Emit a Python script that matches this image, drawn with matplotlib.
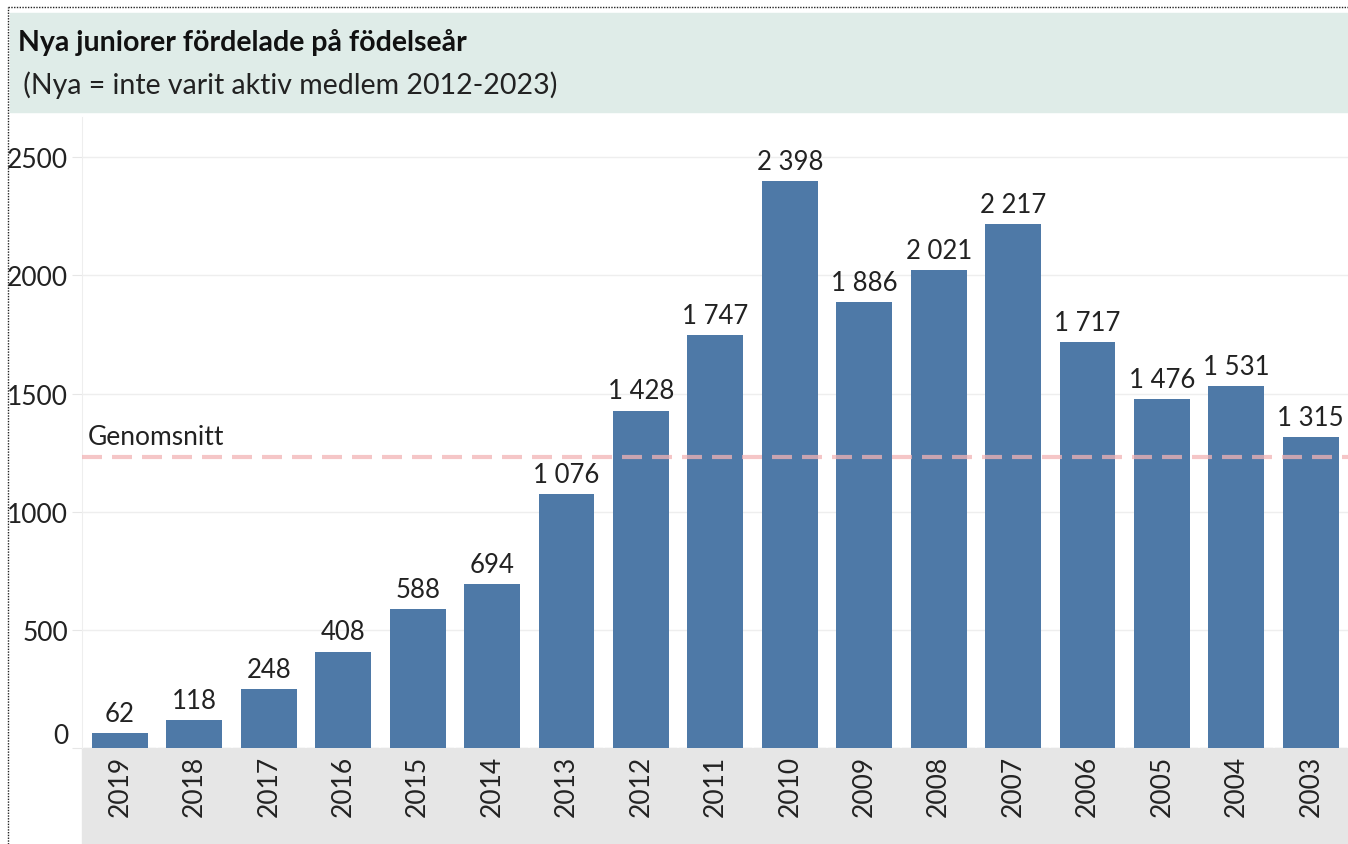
import numpy as np
import matplotlib
matplotlib.use("Agg")
from matplotlib import pyplot as plt
from matplotlib.patches import Rectangle
from matplotlib.lines import Line2D

# data
years = ["2019", "2018", "2017", "2016", "2015", "2014", "2013", "2012", "2011",
         "2010", "2009", "2008", "2007", "2006", "2005", "2004", "2003"]
counts = [62, 118, 248, 408, 588, 694, 1076, 1428, 1747,
          2398, 1886, 2021, 2217, 1717, 1476, 1531, 1315]
yticks = [0, 500, 1000, 1500, 2000, 2500]

title = "Nya juniorer fördelade på födelseår"
subtitle = "(Nya = inte varit aktiv medlem 2012-2023)"
avg_label = "Genomsnitt"

plt.rcParams['font.family'] = ['Lato', 'DejaVu Sans']
TXT = "#222222"

W, H = 1348, 845
fig = plt.figure(figsize=(W / 100, H / 100), dpi=100)

# header band and dotted border
fig.patches.append(Rectangle((10 / W, 1 - 113 / H), 1 - 10 / W, 99 / H,
                             transform=fig.transFigure, color="#dfece8", zorder=-2))
fig.lines.append(Line2D([8 / W, 8 / W], [0, 1 - 8 / H], transform=fig.transFigure,
                        color="#222222", lw=1, ls=(0, (1, 1))))
fig.lines.append(Line2D([8 / W, 1], [1 - 8 / H, 1 - 8 / H], transform=fig.transFigure,
                        color="#222222", lw=1, ls=(0, (1, 1))))
fig.text(18 / W, 1 - 43 / H, title, fontsize=20.5, fontweight="bold",
         va="center", ha="left", color="#111111")
fig.text(16 / W, 1 - 85 / H, " " + subtitle, fontsize=20.5,
         va="center", ha="left", color=TXT)

# x-label band
fig.patches.append(Rectangle((82 / W, 0), 1 - 82 / W, 1 - 749 / H,
                             transform=fig.transFigure, color="#e6e6e6", zorder=-2))

ax = fig.add_axes([82 / W, 1 - 749 / H, 1 - 82 / W, (749 - 118) / H])
ax.set_facecolor("none")
x = np.arange(len(years))
ax.bar(x, counts, width=0.75, color="#4e79a7", zorder=2)

for xi, v in zip(x, counts):
    ax.text(xi, v + 30, f"{v:,}".replace(",", " "), ha="center", va="bottom",
            fontsize=18.5, color=TXT, zorder=4)

mean = np.mean(counts)
ax.axhline(mean, color="#f2b3b5", alpha=0.75, lw=3, ls=(0, (4.8, 2.4)), zorder=3)
ax.annotate(avg_label, xy=(6 / (W - 82), mean), xycoords=("axes fraction", "data"),
            xytext=(0, 6), textcoords="offset points", ha="left", va="bottom",
            fontsize=19, color=TXT, zorder=4)

ax.set_xlim(-0.51, len(years) - 0.59)
ax.set_ylim(0, 2670)
ax.set_yticks(yticks)
ax.set_yticklabels([str(t) for t in yticks], fontsize=19, color=TXT)
ax.get_yticklabels()[0].set_verticalalignment("bottom")
ax.grid(axis="y", color="#eeeeee", lw=1, zorder=0)
ax.tick_params(axis="y", length=7, color="#e6e6e6", pad=3)

ax.set_xticks(x)
ax.set_xticklabels(years, rotation=90, fontsize=19, color=TXT)
ax.set_xticks(np.arange(len(years) + 1) - 0.5, minor=True)
ax.tick_params(axis="x", which="major", length=0, pad=5)
ax.tick_params(axis="x", which="minor", length=6, color="white", width=1.5, direction="in")

for s in ["top", "right", "bottom"]:
    ax.spines[s].set_visible(False)
ax.spines["left"].set_color("#eeeeee")

fig.savefig("out.png", dpi=100)
